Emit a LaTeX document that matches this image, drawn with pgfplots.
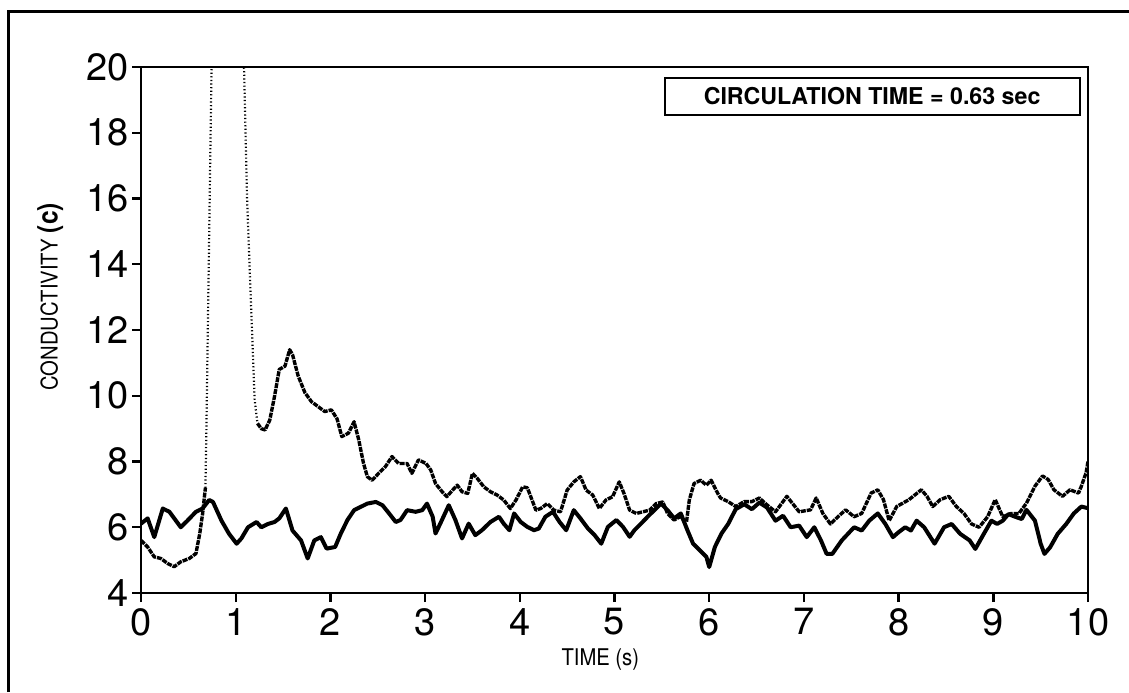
\documentclass[border=0pt]{standalone}
\usepackage{fontspec}
\setmainfont{TeX Gyre Heros}
\newfontfamily\narrowfont[FakeStretch=0.88]{TeX Gyre Heros}
\usepackage{pgfplots}
\pgfplotsset{compat=1.18}

% probe A: steady trace
\pgfplotstableread{
t v
0.00 6.11
0.07 6.27
0.14 5.70
0.23 6.57
0.30 6.47
0.42 6.00
0.49 6.20
0.58 6.47
0.65 6.57
0.72 6.83
0.76 6.77
0.85 6.20
0.93 5.80
1.01 5.50
1.06 5.66
1.13 6.00
1.22 6.16
1.27 6.00
1.34 6.10
1.41 6.16
1.46 6.27
1.53 6.57
1.60 5.90
1.69 5.60
1.76 5.05
1.83 5.60
1.90 5.70
1.96 5.35
2.05 5.40
2.11 5.81
2.18 6.22
2.25 6.52
2.32 6.62
2.39 6.72
2.48 6.77
2.55 6.67
2.62 6.42
2.69 6.16
2.74 6.22
2.81 6.52
2.90 6.47
2.97 6.52
3.02 6.72
3.08 6.32
3.11 5.81
3.16 6.11
3.25 6.67
3.32 6.22
3.39 5.66
3.46 6.11
3.53 5.76
3.60 5.91
3.69 6.16
3.78 6.32
3.83 6.11
3.89 5.91
3.94 6.42
4.01 6.16
4.08 6.01
4.15 5.91
4.20 5.96
4.27 6.32
4.35 6.47
4.42 6.16
4.49 5.91
4.57 6.52
4.64 6.27
4.72 5.96
4.79 5.76
4.86 5.50
4.93 6.01
5.02 6.22
5.09 6.01
5.16 5.71
5.21 5.91
5.28 6.11
5.35 6.32
5.42 6.52
5.49 6.72
5.56 6.52
5.63 6.27
5.70 6.42
5.77 5.91
5.83 5.50
5.90 5.30
5.97 5.10
6.00 4.79
6.06 5.40
6.13 5.81
6.20 6.10
6.28 6.55
6.37 6.70
6.45 6.55
6.53 6.75
6.61 6.60
6.70 6.20
6.78 6.35
6.86 6.00
6.95 6.05
7.03 5.70
7.11 6.00
7.18 5.60
7.24 5.19
7.30 5.19
7.40 5.60
7.53 6.00
7.61 5.90
7.69 6.20
7.78 6.42
7.86 6.10
7.94 5.70
8.00 5.85
8.07 6.00
8.13 5.90
8.19 6.20
8.27 6.00
8.38 5.50
8.48 6.00
8.56 6.10
8.65 5.80
8.75 5.60
8.81 5.34
8.90 5.80
8.98 6.20
9.04 6.10
9.10 6.20
9.16 6.40
9.23 6.32
9.30 6.25
9.35 6.53
9.44 6.20
9.50 5.50
9.54 5.19
9.60 5.39
9.68 5.80
9.77 6.10
9.85 6.42
9.93 6.63
10.00 6.58
}\probeA

% probe B: before the tracer pulse
\pgfplotstableread{
t v
0.00 5.60
0.07 5.40
0.14 5.10
0.21 5.05
0.28 4.90
0.35 4.80
0.42 4.95
0.51 5.05
0.58 5.20
0.62 5.80
0.65 6.40
0.68 7.20
}\probeBpre

% probe B: tracer pulse (runs off scale)
\pgfplotstableread{
t v
0.68 7.20
0.69 8.86
0.70 10.90
0.71 12.90
0.75 21.00
1.08 21.00
1.12 16.00
1.16 12.90
1.18 11.40
1.20 9.87
1.23 9.16
}\probeBpulse

% probe B: after the pulse
\pgfplotstableread{
t v
1.23 9.16
1.27 9.00
1.31 8.96
1.36 9.26
1.41 9.98
1.46 10.80
1.52 10.90
1.57 11.40
1.60 11.25
1.66 10.60
1.73 10.10
1.80 9.82
1.87 9.67
1.94 9.52
2.01 9.57
2.07 9.30
2.12 8.76
2.19 8.86
2.25 9.21
2.30 8.65
2.35 7.94
2.39 7.54
2.44 7.43
2.51 7.64
2.58 7.84
2.65 8.15
2.72 7.94
2.81 7.94
2.86 7.64
2.93 8.05
3.01 7.94
3.06 7.74
3.11 7.33
3.18 7.08
3.23 6.93
3.29 7.13
3.34 7.28
3.39 7.08
3.45 7.03
3.50 7.64
3.55 7.49
3.62 7.23
3.69 7.08
3.76 6.98
3.83 6.83
3.90 6.57
3.96 6.83
4.03 7.23
4.08 7.20
4.17 6.52
4.22 6.57
4.29 6.72
4.36 6.52
4.43 6.47
4.50 7.13
4.57 7.38
4.64 7.54
4.70 7.13
4.77 6.98
4.84 6.57
4.91 6.83
4.98 6.93
5.05 7.38
5.10 7.03
5.16 6.52
5.23 6.42
5.30 6.47
5.37 6.52
5.44 6.72
5.51 6.77
5.56 6.42
5.63 6.22
5.69 6.32
5.76 6.16
5.79 6.83
5.84 7.33
5.91 7.43
5.97 7.28
6.02 7.43
6.09 7.03
6.12 6.89
6.20 6.78
6.28 6.63
6.37 6.78
6.45 6.78
6.53 6.89
6.61 6.68
6.70 6.47
6.82 6.94
6.95 6.47
7.07 6.53
7.13 6.89
7.20 6.42
7.28 6.10
7.36 6.32
7.44 6.53
7.53 6.32
7.61 6.42
7.71 7.04
7.78 7.14
7.84 6.84
7.90 6.20
7.98 6.63
8.11 6.84
8.24 7.14
8.30 6.94
8.36 6.63
8.44 6.84
8.53 6.94
8.61 6.63
8.69 6.42
8.77 6.10
8.85 6.00
8.94 6.32
9.02 6.84
9.10 6.32
9.19 6.42
9.27 6.42
9.35 6.73
9.44 7.25
9.52 7.56
9.58 7.45
9.64 7.14
9.73 6.94
9.81 7.14
9.90 7.04
9.93 7.25
9.98 7.66
10.00 8.00
}\probeBpost

\begin{document}
\begin{tikzpicture}
\useasboundingbox (0,0) rectangle (564.5pt,346pt);
% page frame: left and top edges
\draw[line width=1.5pt] (4pt,0) -- (4pt,340pt) -- (564.5pt,340pt);
\begin{axis}[
  at={(70.5pt,49.5pt)}, anchor=south west,
  scale only axis, width=473.5pt, height=263pt,
  xmin=0, xmax=10, ymin=4, ymax=20,
  xtick={0,1,...,10}, ytick={4,6,...,20},
  tick pos=left, tick align=outside,
  major tick length=4.5pt,
  axis line style={line width=1.2pt},
  every tick/.style={black, line width=1.2pt},
  tick label style={font=\fontsize{19}{19}\selectfont, inner sep=1.5pt},
  xticklabel style={yshift=-1.5pt},
  /pgf/number format/assume math mode=true,
  xlabel={TIME (s)},
  xlabel style={font=\narrowfont\fontsize{11.5}{12}\selectfont,
    at={(axis description cs:0.485,-0.127)}, anchor=center},
  ylabel={CONDUCTIVITY {\fontsize{14}{14}\selectfont\bfseries(c)}},
  ylabel style={font=\narrowfont\fontsize{11.5}{12}\selectfont,
    at={(axis description cs:-0.096,0.563)}, anchor=center, rotate=0},
  clip=true,
]
\addplot[black, line width=2pt, line join=round] table[x=t, y=v] {\probeA};
\addplot[black, line width=1.7pt, line join=round, dash pattern=on 2.5pt off 0.5pt] table[x=t, y=v] {\probeBpre};
\addplot[black, line width=1.1pt, dash pattern=on 0.6pt off 1.2pt] table[x=t, y=v] {\probeBpulse};
\addplot[black, line width=1.7pt, line join=round, dash pattern=on 2.5pt off 0.5pt] table[x=t, y=v] {\probeBpost};
\node[draw, line width=1pt, minimum width=207.5pt, minimum height=18.5pt,
  inner sep=0pt, font=\bfseries\fontsize{11.6}{12}\selectfont]
  at (rel axis cs:0.772,0.944) {CIRCULATION TIME = 0.63 sec};
\end{axis}
\end{tikzpicture}
\end{document}
